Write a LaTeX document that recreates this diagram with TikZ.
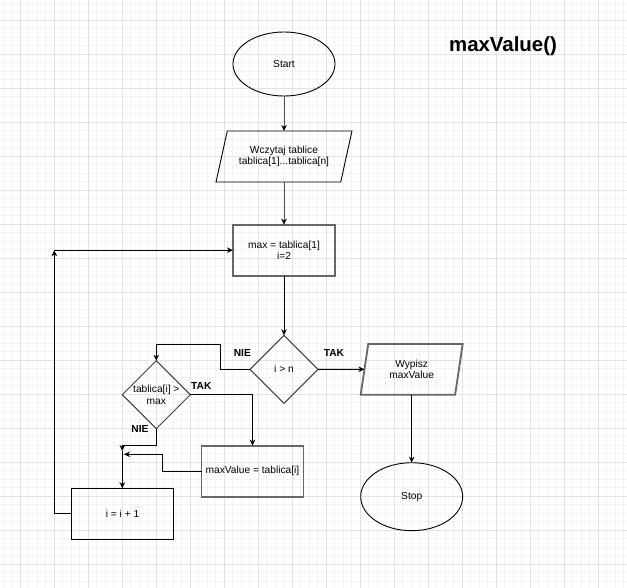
\documentclass[tikz,border=0pt]{standalone}
\usepackage{fontspec}
\setmainfont{Liberation Sans}
\usetikzlibrary{shapes.geometric,arrows.meta}
\definecolor{minorgrid}{RGB}{243,243,243}
\definecolor{majorgrid}{RGB}{226,226,226}
\definecolor{strokegray}{RGB}{102,102,102}
\definecolor{arrowgray}{RGB}{80,80,80}
\begin{document}
\begin{tikzpicture}[x=1pt,y=-1pt,
  base/.style={font=\fontsize{10.2}{11.7}\selectfont, align=center, inner sep=0pt, outer sep=0pt},
  term/.style={base, ellipse, draw=black, line width=0.9pt, minimum width=102pt, minimum height=64pt},
  iobox/.style={base, trapezium, trapezium stretches body, draw},
  procbox/.style={base, rectangle, draw, minimum width=102pt, minimum height=51pt},
  decision/.style={base, diamond, aspect=1, draw=black!75, line width=1pt, minimum width=68pt, minimum height=68pt},
  arr/.style={draw=black, line width=1pt, -{Stealth[length=6pt,width=5.5pt,inset=1.8pt]}},
  grayarr/.style={arr, draw=arrowgray, -{Stealth[length=6pt,width=5.5pt,inset=1.8pt,color=black]}},
  lbl/.style={font=\bfseries\fontsize{10.2}{12}\selectfont, inner sep=0pt}
]
\useasboundingbox (0,0) rectangle (627,588);
\fill[white] (0,0) rectangle (627,588);
% grid
\foreach \i in {0,...,73} {\draw[minorgrid, line width=0.8pt] ({3+8.5*\i},0) -- ({3+8.5*\i},588);}
\foreach \i in {0,...,68} {\draw[minorgrid, line width=0.8pt] (0,{3+8.5*\i}) -- (627,{3+8.5*\i});}
\foreach \i in {0,...,17} {\draw[majorgrid, line width=0.9pt] ({20+34*\i},0) -- ({20+34*\i},588);}
\foreach \i in {0,...,16} {\draw[majorgrid, line width=0.9pt] (0,{20+34*\i}) -- (627,{20+34*\i});}

% title
\node[font=\bfseries\fontsize{20.4}{24}\selectfont, inner sep=0pt] (title) at (503,46.7) {maxValue()};

% nodes
\node[term] (start) at (284,64) {Start};
\node[iobox, draw=black, line width=0.9pt, minimum width=136pt, minimum height=51pt,
      trapezium left angle=62, trapezium right angle=118] (wcz) at (284,156.5) {Wczytaj tablice\\tablica[1]...tablica[n]};
\node[procbox, draw=strokegray, line width=1.8pt] (init) at (284,250.2) {max = tablica[1]\\i=2};
\node[decision] (cond1) at (284,369.3) {i {\textgreater} n};
\node[iobox, draw=strokegray, line width=1.8pt, minimum width=102pt, minimum height=50.7pt,
      trapezium left angle=68.5, trapezium right angle=111.5] (wyp) at (411.7,369.3) {Wypisz\\maxValue};
\node[term, minimum height=68pt] (stop) at (411.7,496.7) {Stop};
\node[decision] (cond2) at (156.3,394.7) {tablica[i] {\textgreater}\\max};
\node[procbox, draw=strokegray, line width=1.8pt] (maxv) at (252.5,471.2) {maxValue = tablica[i]};
\node[procbox, draw=black, line width=1pt] (inc) at (122.5,513.8) {i = i + 1};

% helper coordinates
\coordinate (n1) at (220.3,344.7);
\coordinate (m1) at (122.3,445.7);
\coordinate (J) at (122.3,451);
\coordinate (m2) at (162.5,454.3);
\coordinate (J2) at (124,454.3);
\coordinate (L) at (54.3,250.2);

% connectors
\draw[grayarr] (start.south) -- (start.south |- wcz.north);
\draw[grayarr] (wcz.south -| init.north) -- (init.north);
\draw[arr] (init.south) -- (cond1.north);
\draw[arr] (cond1.east) -- (wyp.west);
\draw[arr] (wyp.south -| stop.north) -- (stop.north);
\draw[arr] (cond1.west) -| (n1) -| (cond2.north);
\draw[arr] (cond2.east) -| (maxv.north);
\draw[arr] (cond2.south) |- (m1) -- (J);
\draw[arr] (maxv.west) -| (m2) -- (J2);
\draw[arr] (J) -- (J |- inc.north);
\draw[arr] (inc.west) -| (L);
\draw[arr] (L) -- (init.west);

% labels
\node[lbl] (tak1) at (334,352.7) {TAK};
\node[lbl] (nie1) at (242.3,352.7) {NIE};
\node[lbl] (tak2) at (201.3,386) {TAK};
\node[lbl] (nie2) at (140,429) {NIE};
\end{tikzpicture}
\end{document}
